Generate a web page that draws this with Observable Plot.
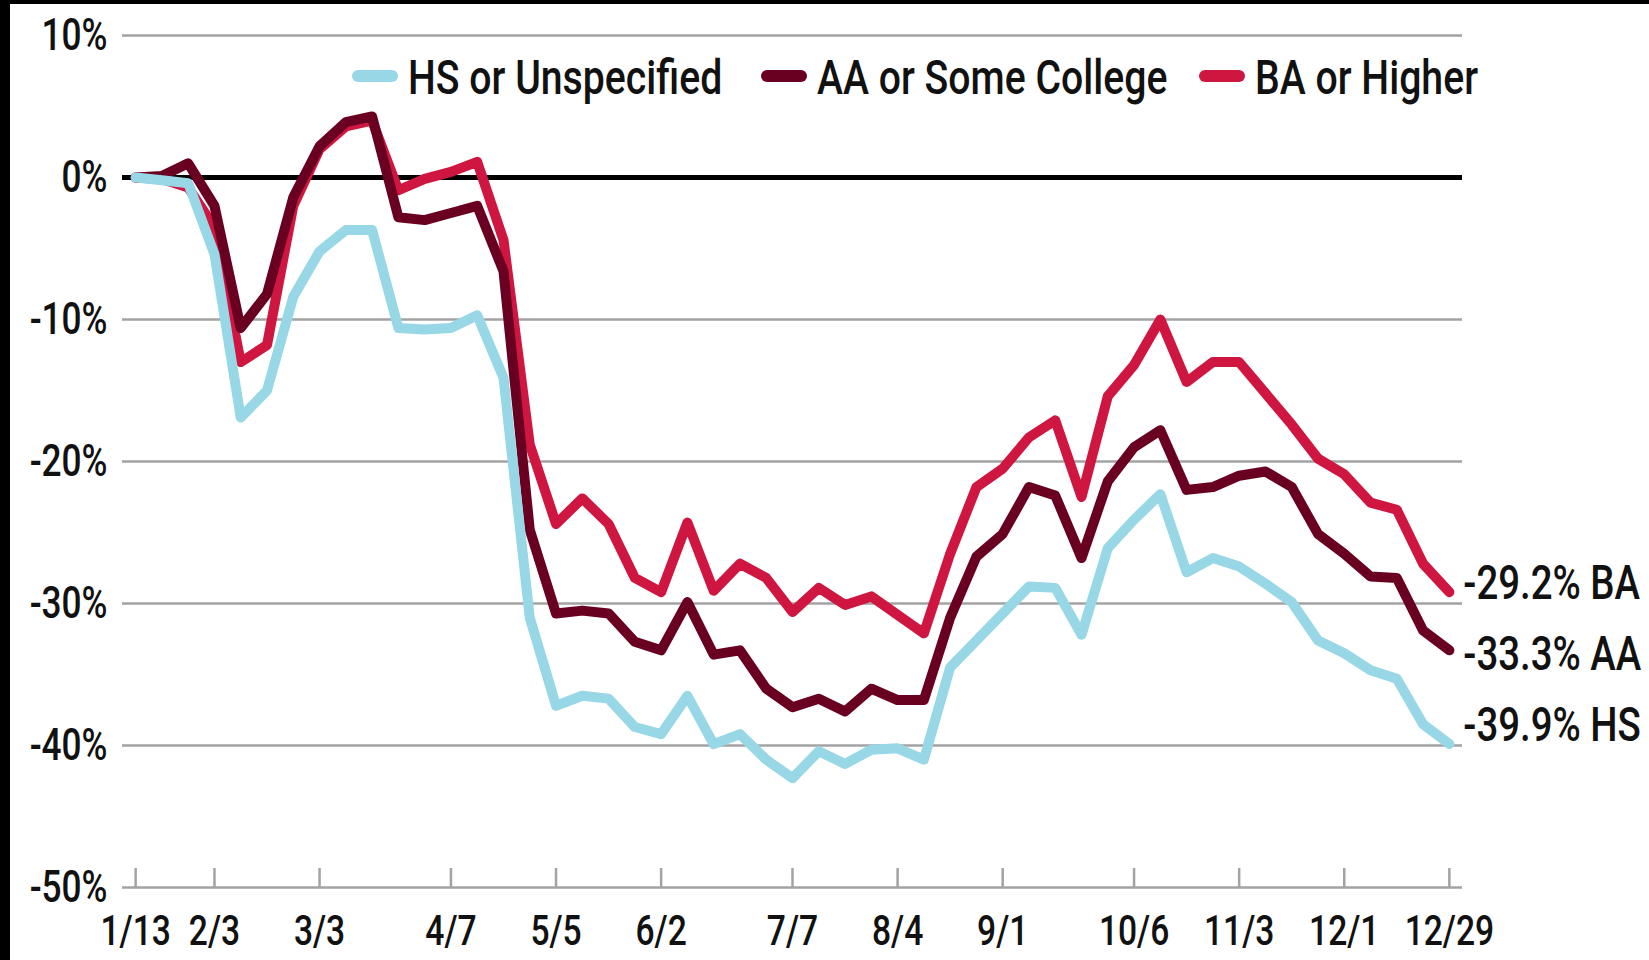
<!DOCTYPE html>
<html>
<head>
<meta charset="utf-8">
<script src="https://cdn.jsdelivr.net/npm/d3@7"></script>
<script src="https://cdn.jsdelivr.net/npm/@observablehq/plot@0.6"></script>
<style>
  html, body { margin: 0; padding: 0; background: #fff; }
  #wrap { position: relative; width: 1649px; height: 960px; overflow: hidden;
          font-family: Roboto, "Noto Sans", sans-serif; font-weight: 500; color: #111; }
  #chart { position: absolute; left: 0; top: 0; }
  .bar-left { position: absolute; left: 0; top: 0; width: 10px; height: 960px; background: #000; }
  .bar-top { position: absolute; left: 0; top: 0; width: 1649px; height: 4px; background: #000; }
  .item { position: absolute; top: 53px; height: 49px; font-size: 49px; line-height: 49px; white-space: nowrap; }
  .sw { position: absolute; left: 0; top: 17px; width: 46px; height: 12px; border-radius: 6px; }
  .lt { position: absolute; top: 0; display: inline-block; transform: scaleX(0.8); transform-origin: 0 50%; }
</style>
</head>
<body>
<div id="wrap">
  <div id="chart"></div>
  <div id="legend"></div>
  <div class="bar-left"></div>
  <div class="bar-top"></div>
</div>
<script>
// Weekly categories (week starting)
const weeks = ["1/13","1/20","1/27","2/3","2/10","2/17","2/24","3/3","3/10","3/17","3/24","3/31",
  "4/7","4/14","4/21","4/28","5/5","5/12","5/19","5/26","6/2","6/9","6/16","6/23","6/30",
  "7/7","7/14","7/21","7/28","8/4","8/11","8/18","8/25","9/1","9/8","9/15","9/22","9/29",
  "10/6","10/13","10/20","10/27","11/3","11/10","11/17","11/24","12/1","12/8","12/15","12/22","12/29"];

// Tick labels shown on the x axis
const xTickLabels = ["1/13","2/3","3/3","4/7","5/5","6/2","7/7","8/4","9/1","10/6","11/3","12/1","12/29"];
// Y axis ticks (percent)
const yTicks = [10, 0, -10, -20, -30, -40, -50];
const gridValues = [10, -10, -20, -30, -40, -50];

// Series names
const seriesNames = ["HS or Unspecified", "AA or Some College", "BA or Higher"];
const seriesShort = ["HS", "AA", "BA"];
const seriesColors = ["#98d7e6", "#6a0021", "#cf1641"];

// Series values (% change)
const hsValues = [0, -0.2, -0.4, -5.4, -16.9, -15.0, -8.4, -5.2, -3.7, -3.7, -10.6, -10.7, -10.6, -9.7, -14.1,
  -31.0, -37.2, -36.5, -36.7, -38.7, -39.2, -36.5, -39.9, -39.2, -41.0, -42.3, -40.4, -41.3, -40.3, -40.2, -41.0,
  -34.5, -32.6, -30.7, -28.8, -28.9, -32.2, -26.1, -24.1, -22.3, -27.8, -26.8, -27.4, -28.6, -29.9, -32.6, -33.5, -34.7, -35.3, -38.5, -39.9];
const aaValues = [0, 0.1, 1.0, -2.0, -10.6, -8.2, -1.4, 2.2, 3.9, 4.3, -2.8, -3.0, -2.5, -2.0, -6.6,
  -24.8, -30.7, -30.5, -30.7, -32.7, -33.3, -29.9, -33.6, -33.3, -36.0, -37.3, -36.7, -37.6, -36.0, -36.8, -36.8,
  -31.0, -26.7, -25.1, -21.8, -22.4, -26.8, -21.4, -19.0, -17.8, -22.0, -21.8, -21.0, -20.7, -21.8, -25.1, -26.5, -28.1, -28.2, -31.9, -33.3];
const baValues = [0, -0.1, -0.7, -3.5, -13.0, -11.8, -2.0, 2.0, 3.6, 4.0, -0.9, -0.1, 0.4, 1.1, -4.4,
  -18.8, -24.4, -22.6, -24.4, -28.2, -29.2, -24.3, -29.1, -27.2, -28.2, -30.6, -28.9, -30.1, -29.5, -30.8, -32.1,
  -26.5, -21.8, -20.5, -18.3, -17.1, -22.5, -15.4, -13.2, -10.0, -14.4, -13.0, -13.0, -15.2, -17.4, -19.8, -20.9, -22.9, -23.4, -27.2, -29.2];

const allValues = [hsValues, aaValues, baValues];
const toRows = (vals) => weeks.map((w, i) => ({week: w, value: vals[i]}));

const FONT = 'Roboto, "Noto Sans", sans-serif';
const GRID = "#a3a3a3";
const SQUEEZE = 0.8;   // horizontal condensing of text glyphs

// end labels: vertical nudges (px) per series
const endDy = [-18, 4, -9];

const lineMarks = [2, 1, 0].map(k =>
  Plot.line(toRows(allValues[k]), {x: "week", y: "value", stroke: seriesColors[k], strokeWidth: 10,
    strokeLinejoin: "round", strokeLinecap: "round"}));

const labelMarks = [0, 1, 2].map(k => {
  const last = allValues[k].length - 1;
  const row = {week: weeks[last], value: allValues[k][last],
    label: `${allValues[k][last].toFixed(1)}% ${seriesShort[k]}`};
  return Plot.text([row], {x: "week", y: "value", text: "label", textAnchor: "start",
    lineAnchor: "middle", dx: 14, dy: endDy[k], fontSize: 48, fill: "#111"});
});

const chart = Plot.plot({
  width: 1649, height: 960,
  marginLeft: 122, marginRight: 187, marginTop: 35, marginBottom: 73,
  x: {type: "point", domain: weeks, padding: 0.5, round: false, label: null},
  y: {domain: [-50, 10], label: null},
  style: {fontFamily: FONT, fontWeight: 500, color: "#111", background: "transparent", overflow: "visible"},
  marks: [
    Plot.ruleY(gridValues, {stroke: GRID, strokeWidth: 2.5}),
    Plot.ruleY([0], {stroke: "#000", strokeWidth: 5}),
    Plot.axisY({ticks: yTicks, tickSize: 0, tickPadding: 15, tickFormat: d => `${d}%`, fontSize: 44, fill: "#111"}),
    Plot.axisX({ticks: xTickLabels, tickSize: 19, dy: -19, stroke: GRID, strokeWidth: 2.5, tickFormat: () => ""}),
    Plot.axisX({ticks: xTickLabels, tickSize: 0, tickPadding: 28, fontSize: 42, fill: "#111"}),
    ...lineMarks,
    ...labelMarks
  ]
});
document.getElementById("chart").appendChild(chart);

// condense SVG text glyphs horizontally about each text's anchor point
const svgNS = "http://www.w3.org/2000/svg";
Array.from(chart.querySelectorAll("text")).forEach(t => {
  if (!t.textContent) return;
  const r = t.getBoundingClientRect();
  if (r.width === 0) return;
  const anchor = getComputedStyle(t).textAnchor;
  const ax = anchor === "end" ? r.right : anchor === "middle" ? r.left + r.width / 2 : r.left;
  const parent = t.parentNode;
  const m = parent.getScreenCTM();
  const px = (ax - m.e) / m.a;
  const g = document.createElementNS(svgNS, "g");
  g.setAttribute("transform", `translate(${px.toFixed(2)},0) scale(${SQUEEZE},1) translate(${(-px).toFixed(2)},0)`);
  parent.insertBefore(g, t);
  g.appendChild(t);
});

// Legend (HTML overlay inside the plot area)
const legendLeft = [352, 761, 1199];
const legend = document.getElementById("legend");
seriesNames.forEach((name, k) => {
  const item = document.createElement("div");
  item.className = "item";
  item.style.left = legendLeft[k] + "px";
  const sw = document.createElement("div");
  sw.className = "sw";
  sw.style.background = seriesColors[k];
  const t = document.createElement("span");
  t.className = "lt";
  t.style.left = "56px";
  t.textContent = name;
  item.appendChild(sw);
  item.appendChild(t);
  legend.appendChild(item);
});
</script>
</body>
</html>
